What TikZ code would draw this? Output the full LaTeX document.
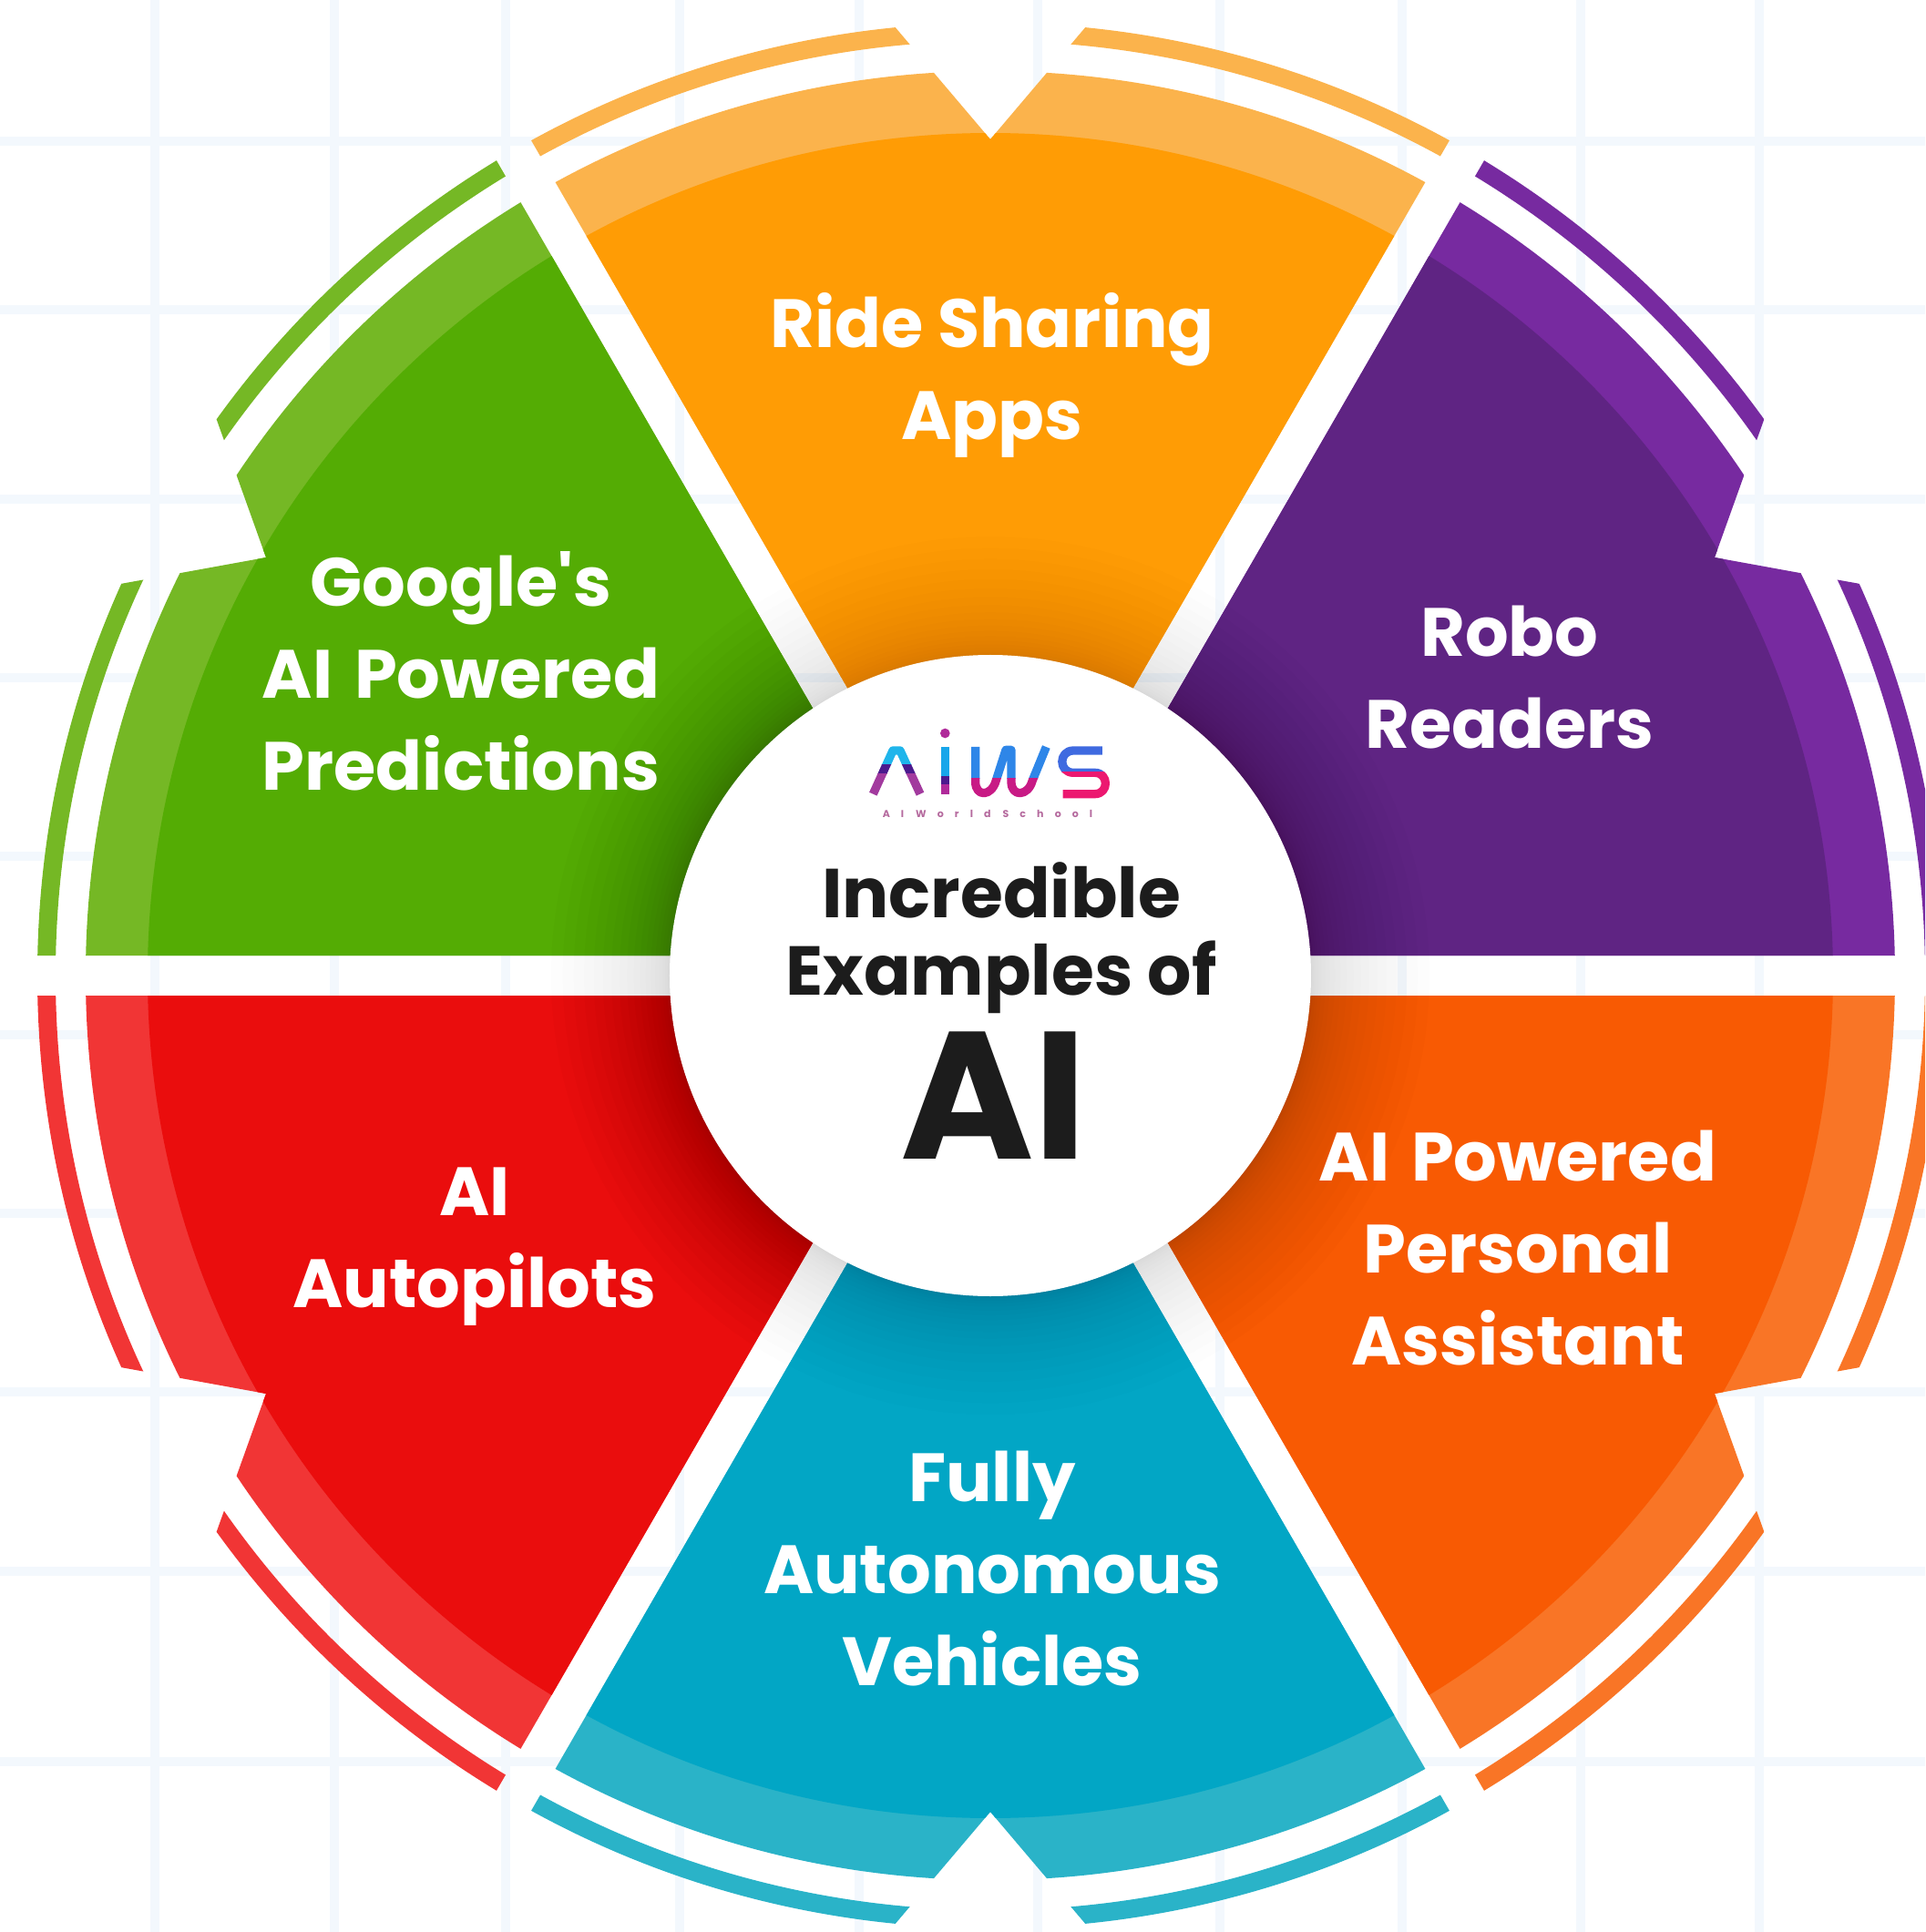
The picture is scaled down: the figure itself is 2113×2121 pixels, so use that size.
\documentclass[tikz,border=0pt]{standalone}
\usepackage{fontspec}
\usetikzlibrary{calc}
\newfontfamily\popfont{Poppins}
\definecolor{orD}{HTML}{FF9C05}\definecolor{orL}{HTML}{FBB34C}
\definecolor{puD}{HTML}{5F2483}\definecolor{puL}{HTML}{772AA0}
\definecolor{reD}{HTML}{F85A03}\definecolor{reL}{HTML}{F97526}
\definecolor{teD}{HTML}{02A6C5}\definecolor{teL}{HTML}{2AB3C8}
\definecolor{rdD}{HTML}{EA0D0D}\definecolor{rdL}{HTML}{F13535}
\definecolor{grD}{HTML}{54AC04}\definecolor{grL}{HTML}{75B825}
\definecolor{gridc}{HTML}{F3F8FD}
\definecolor{ink}{HTML}{1C1C1C}
\definecolor{lgcA}{HTML}{1FB5EB}\definecolor{lgcI}{HTML}{17A6EA}
\definecolor{lgcW}{HTML}{2E86E8}\definecolor{lgcS}{HTML}{3F6AE0}
\definecolor{lgdk}{HTML}{4B1A8E}
\definecolor{lgpA}{HTML}{A23A9E}\definecolor{lgpI}{HTML}{B02A9A}
\definecolor{lgpW}{HTML}{C81A85}\definecolor{lgpS}{HTML}{EC1870}
\definecolor{lgtx}{HTML}{B56A9E}
\tikzset{
 pix/.style={shift={(-1087,1071)},y=-1pt},
 gridline/.style={gridc,line width=10pt},
 seglabel/.style={text=white,align=center,font=\popfont\bfseries\fontsize{75}{101}\selectfont,inner sep=0pt},
 titlelabel/.style={text=ink,align=center,inner sep=0pt},
 logobutt/.style={line width=9.3pt,line cap=butt,line join=round}
}
\newcommand{\logoband}[4]{\begin{scope}\clip (0,#1) rectangle (840,#2);\draw[logobutt,#3] #4;\end{scope}}
\begin{document}
\begin{tikzpicture}[x=1pt,y=1pt]
\useasboundingbox (-1087,-1050) rectangle (1026,1071);
\clip (-1087,-1050) rectangle (1026,1071);
\fill[white] (-1087,-1050) rectangle (1026,1071);
\begin{scope}[pix]
 \foreach \gx in {170,367,555,746,943,1139,1339,1539,1735,1931}
   \draw[gridline] (\gx,0) -- (\gx,2121);
 \foreach \gy in {155,340,548,744,940,1136,1332,1528,1725,1934}
   \draw[gridline] (0,\gy) -- (2113,\gy);
\end{scope}
\foreach \i in {1,...,20}
  \fill[black,opacity=.009] (0,0) circle ({352+130*(\i/20)*(\i/20)});
\foreach \t/\dk/\lt/\so in {90/orD/orL/.006,30/puD/puL/.012,-30/reD/reL/.013,-90/teD/teL/.007,-150/rdD/rdL/.014,150/grD/grL/.014}{
 \begin{scope}
  \clip (\t:44) -- ($(\t:44)+(\t-30:1300)$) -- ($(\t:918)+(\t-40.3:300)$) -- (\t:918)
        -- ($(\t:918)+(\t+40.3:300)$) -- ($(\t:44)+(\t+30:1300)$) -- cycle;
  \fill[\lt,even odd rule] (0,0) circle (1046) (0,0) circle (1026);
  \fill[\lt] (0,0) circle (993);
  \fill[\dk] (0,0) circle (925);
  \foreach \i in {1,...,20}
    \fill[black,opacity=\so] (0,0) circle ({352+130*(\i/20)*(\i/20)});
 \end{scope}
}
\node[circle,fill=white,minimum size=704pt,inner sep=0pt] (hub) at (0,0) {};
\begin{scope}[pix]
 \node[seglabel] (ride) at (1089,412) {Ride Sharing\\Apps};
 \node[seglabel] (robo) at (1657,744) {Robo\\Readers};
 \node[seglabel] (pers) at (1666,1370) {AI\kern8pt{} Powered\\Personal\\Assistant};
 \node[seglabel] (auto) at (1089,1722) {Fully\\Autonomous\\Vehicles};
 \node[seglabel] (pilot) at (521,1369) {AI\\Autopilots};
 \node[seglabel] (goog) at (506,737) {Google's\\AI\kern8pt{} Powered\\Predictions};
 \node[titlelabel,font=\popfont\bfseries\fontsize{76}{85}\selectfont] (inc) at (1099,1030) {Incredible\\Examples of};
 \node[titlelabel,font=\popfont\bfseries\fontsize{199}{199}\selectfont] (ai) at (1091,1203) {AI};
 \node[inner sep=0pt,text=lgtx,font=\popfont\bfseries\fontsize{11}{11}\selectfont\addfontfeature{LetterSpace=110}] (ws) at (1084,893) {AI\hspace{13pt}World\hspace{13pt}School};
\end{scope}
\begin{scope}[shift={(-147,281)},x=.33333pt,y=-.33333pt]
 \def\pA{(55,245) -- (120,102) -- (144,102) -- (210,245)}
 \def\pI{(292,90) -- (292,245)}
 \def\pW{(392,90) -- (392,205) .. controls (392,255) and (445,255) .. (460,200) -- (492,100) -- (510,100) -- (510,205) .. controls (510,255) and (565,255) .. (580,200) -- (625,90)}
 \def\pS{(810,102) -- (715,102) .. controls (665,102) and (665,175) .. (715,175) -- (785,175) .. controls (832,175) and (832,245) .. (785,245) -- (680,245)}
 \logoband{70}{150}{lgcA}{\pA}
 \logoband{150}{178}{lgdk}{\pA}
 \logoband{178}{260}{lgpA}{\pA}
 \logoband{70}{188}{lgcI}{\pI}
 \logoband{188}{215}{lgdk}{\pI}
 \logoband{215}{260}{lgpI}{\pI}
 \logoband{70}{195}{lgcW}{\pW}
 \logoband{195}{260}{lgpW}{\pW}
 \logoband{70}{172}{lgcS}{\pS}
 \logoband{172}{260}{lgpS}{\pS}
 \fill[lgpI] (292,45) circle (16);
\end{scope}
\end{tikzpicture}
\end{document}
